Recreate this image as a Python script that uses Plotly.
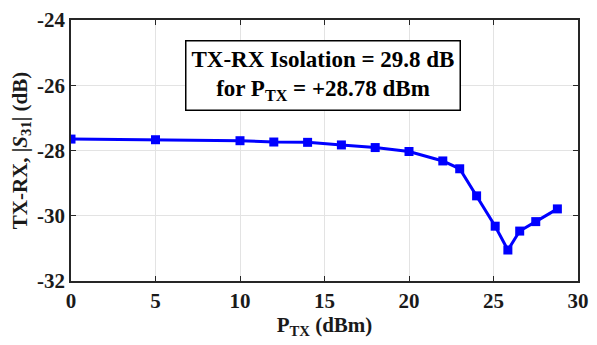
import plotly.graph_objects as go

p_tx = [0, 5, 10, 12, 14, 16, 18, 20, 22, 23, 24, 25.1, 25.85, 26.55, 27.5, 28.78]
s31 = [-27.65, -27.67, -27.70, -27.74, -27.75, -27.83, -27.91, -28.03, -28.32, -28.56, -29.39, -30.32, -31.05, -30.47, -30.18, -29.79]
x_ticks = [0, 5, 10, 15, 20, 25, 30]
y_ticks = [-32, -30, -28, -26, -24]
y_tick_text = ["-32", "-30", "-28", "-26", "-24"]

font = "Liberation Serif"
fig = go.Figure()
fig.add_trace(go.Scatter(
    x=p_tx, y=s31, mode="lines+markers",
    line=dict(color="#0000ff", width=3),
    marker=dict(symbol="square", size=9, color="#0000ff"),
    showlegend=False,
))
axis_common = dict(
    showgrid=True, gridcolor="#e3e3e3", gridwidth=1,
    showline=True, linecolor="#262626", linewidth=1.5, mirror="ticks",
    ticks="inside", ticklen=5, tickcolor="#262626",
    zeroline=False, ticklabeloverflow="allow",
    tickfont=dict(family=font, size=21, color="#1a1a1a", weight="bold"),
)
fig.update_xaxes(range=[0, 30], tickvals=x_ticks, ticktext=["<b>%d</b>" % v for v in x_ticks],
                 title=dict(text="<b>P<sub>TX</sub> (dBm)</b>", font=dict(family=font, size=21, color="#1a1a1a"), standoff=2),
                 **axis_common)
fig.update_yaxes(range=[-32, -24], tickvals=y_ticks, ticktext=["<b>%s</b>" % t for t in y_tick_text],
                 title=dict(text="<b>TX-RX, |<i>S</i><sub>31</sub>| (dB)</b>", font=dict(family=font, size=21, color="#1a1a1a"), standoff=4),
                 **axis_common)
fig.add_annotation(
    x=0.497, y=0.788, xref="paper", yref="paper", xanchor="center", yanchor="middle",
    text="<b>TX-RX Isolation = 29.8 dB<br>for P<sub>TX</sub> = +28.78 dBm</b>",
    showarrow=False, align="center",
    font=dict(family=font, size=23, color="black"),
    bordercolor="black", borderwidth=1.5, borderpad=5, bgcolor="white",
)
fig.update_layout(
    width=597, height=345,
    margin=dict(l=71, r=12, t=8, b=64),
    plot_bgcolor="white", paper_bgcolor="white",
)
fig.write_html("out.html")
